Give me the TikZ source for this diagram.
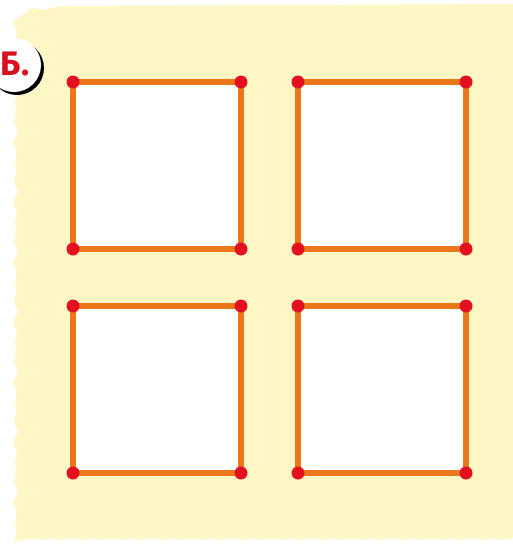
\documentclass[tikz,border=0pt]{standalone}
\usepackage{fontspec}
\setmainfont{Fira Sans}
\definecolor{bgyellow}{HTML}{FFF6C6}
\definecolor{stick}{HTML}{EB771A}
\definecolor{head}{HTML}{E3101F}
\definecolor{labred}{HTML}{D9101E}
\tikzset{
  stickline/.style={draw=stick, line width=5.5pt},
  headdot/.style={circle, fill=head, inner sep=0pt, minimum size=13pt},
}
\begin{document}
\begin{tikzpicture}[x=1pt,y=-1pt]
\useasboundingbox (0,0) rectangle (513,544);
% ragged paper background
\fill[bgyellow] (513,4)
  -- (60,6) -- (45,10) -- (32,8) -- (24,14)
  \foreach \i in {0,...,52} { -- ({13+mod(\i,2)*3+mod(\i,3)},{22+\i*10}) }
  -- (22,540) \foreach \i in {1,...,48} { -- ({22+\i*10},{540-mod(\i,2)*2}) } -- (513,538) -- cycle;
% label
\fill[black] (17,68) circle (27);
\fill[white] (14,65) circle (27);
\node[font=\bfseries\fontsize{34}{34}\selectfont, text=labred, inner sep=0pt] (lab) at (15,64) {Б.};
% square corners
\foreach \n/\x/\y in {a/73/82,b/241/82,c/73/249,d/241/249,
                      e/298/82,f/466/82,g/298/249,h/466/249,
                      i/73/306,j/241/306,k/73/473,l/241/473,
                      m/298/306,n/466/306,o/298/473,p/466/473}
  \coordinate (\n) at (\x,\y);
\fill[white] (a) rectangle (d);
\fill[white] (e) rectangle (h);
\fill[white] (i) rectangle (l);
\fill[white] (m) rectangle (p);
\foreach \u/\v in {a/b,b/d,d/c,c/a, e/f,f/h,h/g,g/e, i/j,j/l,l/k,k/i, m/n,n/p,p/o,o/m}
  \draw[stickline] (\u) -- (\v);
\foreach \n in {a,b,c,d,e,f,g,h,i,j,k,l,m,n,o,p}
  \node[headdot] at (\n) {};
\end{tikzpicture}
\end{document}
